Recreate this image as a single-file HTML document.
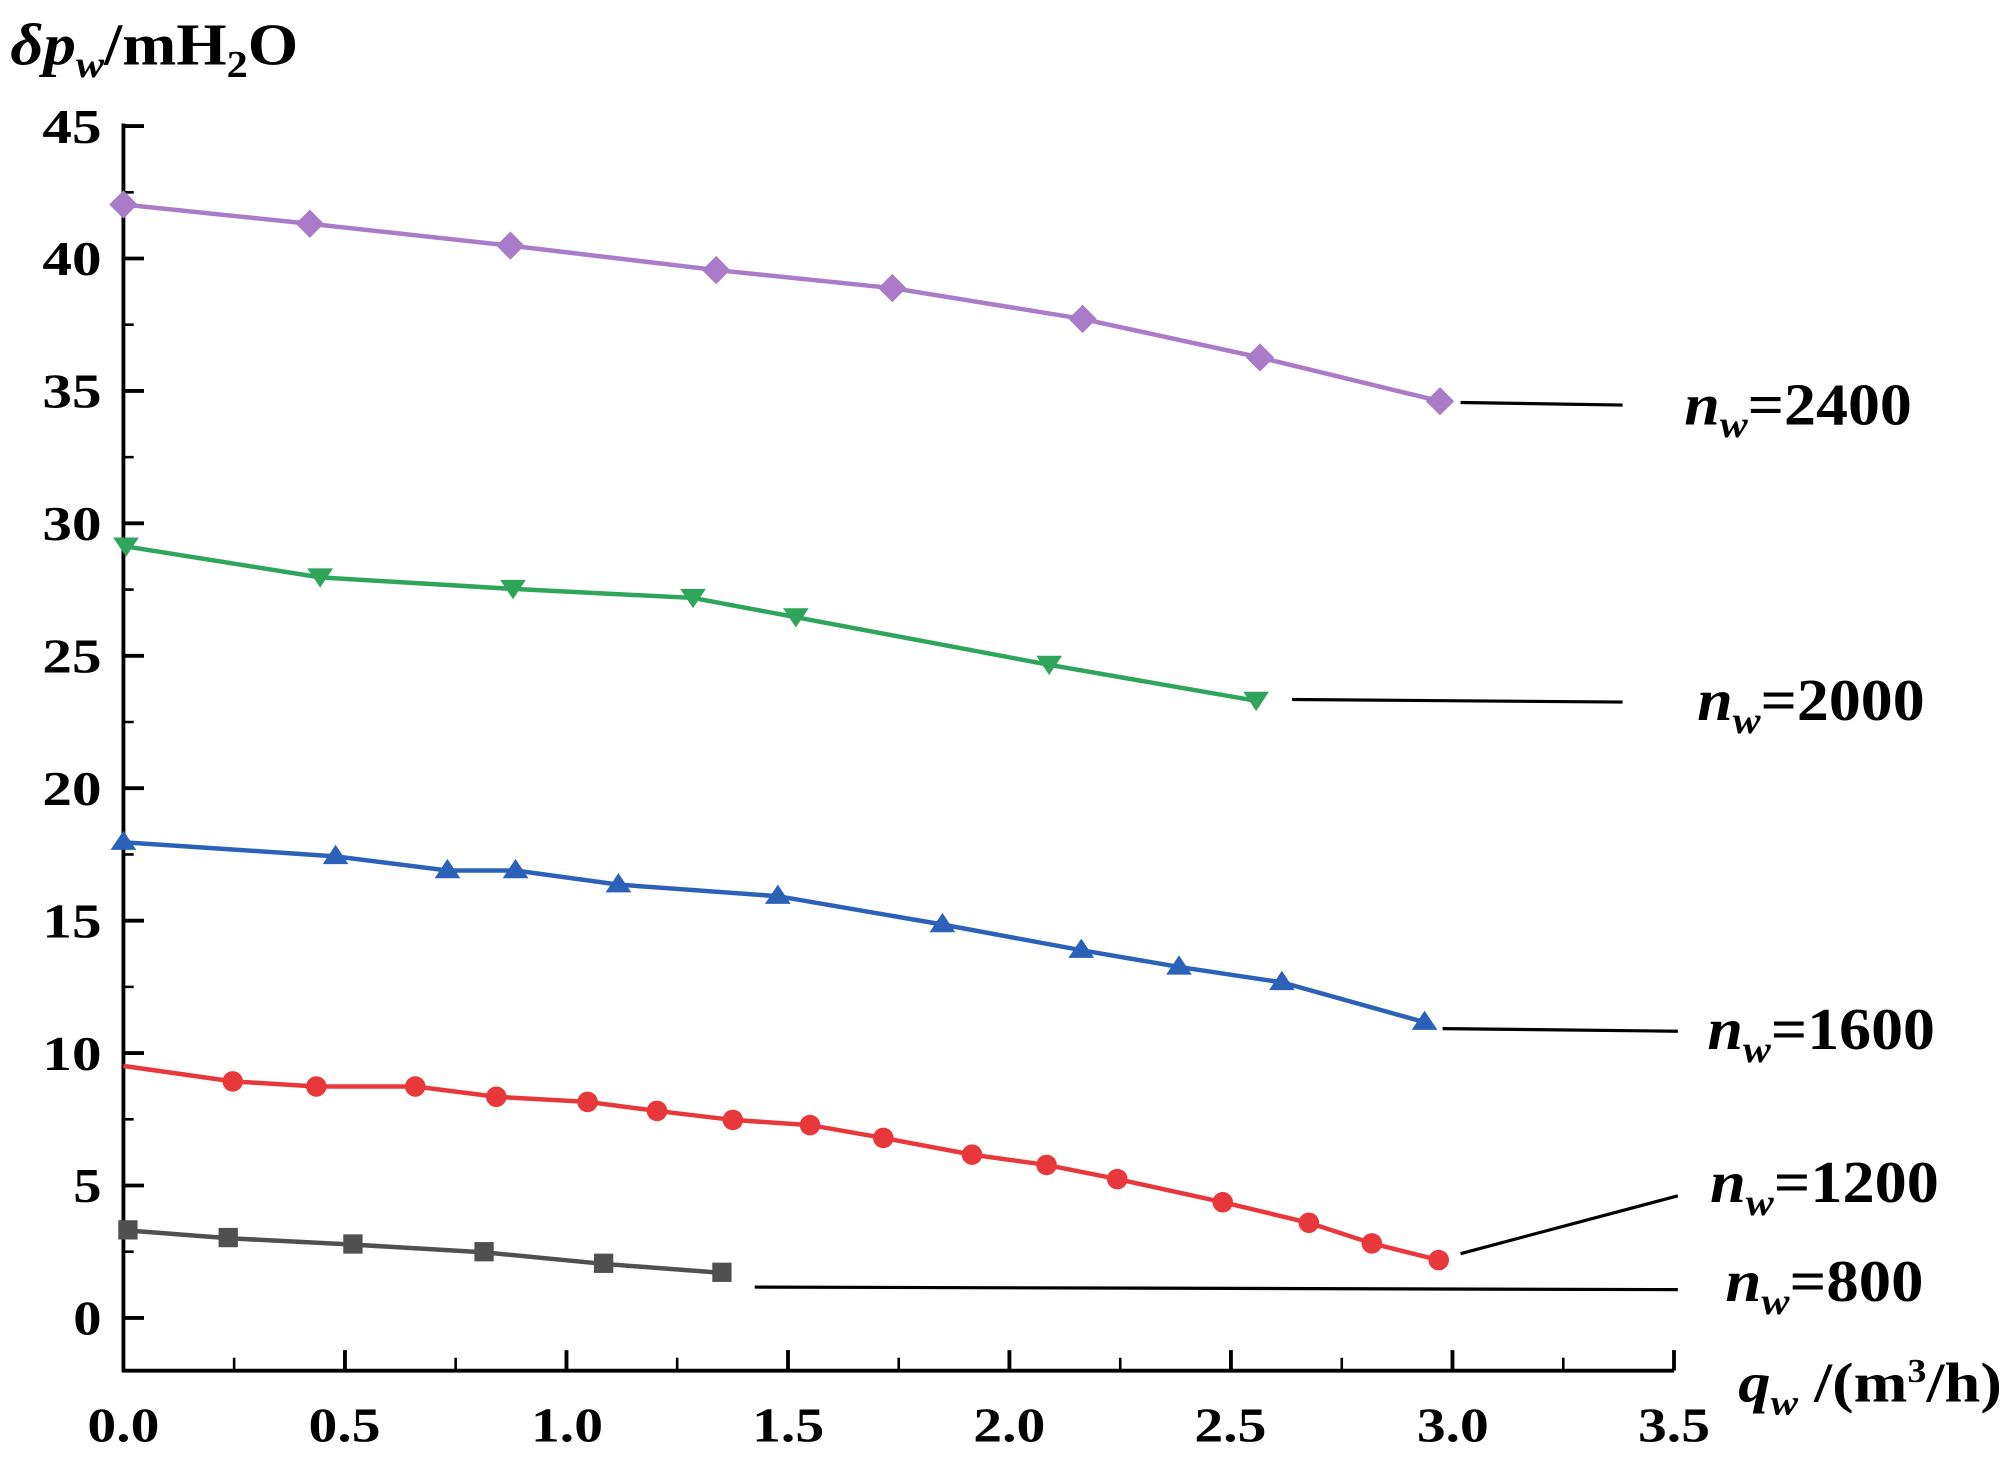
<!DOCTYPE html>
<html><head><meta charset="utf-8"><style>
html,body{margin:0;padding:0;background:#fff;}
svg{display:block;}
text{font-family:"Liberation Serif",serif;font-weight:bold;fill:#000;}
</style></head><body>
<svg width="2016" height="1462" viewBox="0 0 1568 1137" xmlns="http://www.w3.org/2000/svg">
<g stroke="#000" stroke-width="3" fill="none">
<line x1="96" y1="96" x2="96" y2="1067"/>
<line x1="95" y1="1066" x2="1302" y2="1066"/>
<path d="M96 98h16M96 201h16M96 304h16M96 407h16M96 510h16M96 613h16M96 716h16M96 819h16M96 922h16M96 1025h16"/>
<path d="M96 149.5h8M96 252.5h8M96 355.5h8M96 458.5h8M96 561.5h8M96 664.5h8M96 767.5h8M96 870.5h8M96 973.5h8" stroke-width="2"/>
<path d="M268.3 1066v-16M440.6 1066v-16M612.9 1066v-16M785.1 1066v-16M957.4 1066v-16M1129.7 1066v-16M1302 1066v-16"/>
<path d="M182.1 1066v-10M354.4 1066v-10M526.7 1066v-10M699 1066v-10M871.3 1066v-10M1043.6 1066v-10M1215.9 1066v-10" stroke-width="2"/>
</g>
<g font-size="38" text-anchor="end">
<text x="79" y="111" textLength="46" lengthAdjust="spacingAndGlyphs">45</text>
<text x="79" y="214" textLength="46" lengthAdjust="spacingAndGlyphs">40</text>
<text x="79" y="317" textLength="46" lengthAdjust="spacingAndGlyphs">35</text>
<text x="79" y="420" textLength="46" lengthAdjust="spacingAndGlyphs">30</text>
<text x="79" y="523" textLength="46" lengthAdjust="spacingAndGlyphs">25</text>
<text x="79" y="626" textLength="46" lengthAdjust="spacingAndGlyphs">20</text>
<text x="79" y="729" textLength="46" lengthAdjust="spacingAndGlyphs">15</text>
<text x="79" y="832" textLength="46" lengthAdjust="spacingAndGlyphs">10</text>
<text x="79" y="935" textLength="22" lengthAdjust="spacingAndGlyphs">5</text>
<text x="79" y="1038" textLength="22" lengthAdjust="spacingAndGlyphs">0</text>
</g>
<g font-size="38" text-anchor="middle">
<text x="96" y="1121" textLength="56" lengthAdjust="spacingAndGlyphs">0.0</text>
<text x="268" y="1121" textLength="56" lengthAdjust="spacingAndGlyphs">0.5</text>
<text x="441" y="1121" textLength="56" lengthAdjust="spacingAndGlyphs">1.0</text>
<text x="613" y="1121" textLength="56" lengthAdjust="spacingAndGlyphs">1.5</text>
<text x="785" y="1121" textLength="56" lengthAdjust="spacingAndGlyphs">2.0</text>
<text x="957" y="1121" textLength="56" lengthAdjust="spacingAndGlyphs">2.5</text>
<text x="1130" y="1121" textLength="56" lengthAdjust="spacingAndGlyphs">3.0</text>
<text x="1302" y="1121" textLength="56" lengthAdjust="spacingAndGlyphs">3.5</text>
</g>
<text x="8" y="50" font-size="46" textLength="224" lengthAdjust="spacingAndGlyphs"><tspan font-style="italic">δp</tspan><tspan font-style="italic" font-size="30" dy="10">w</tspan><tspan dy="-10">/mH</tspan><tspan font-size="30" dy="10">2</tspan><tspan dy="-10">O</tspan></text>
<text x="1352" y="1090" font-size="44" textLength="205" lengthAdjust="spacingAndGlyphs"><tspan font-style="italic">q</tspan><tspan font-style="italic" font-size="28" dy="10">w</tspan><tspan dy="-10"> /(m</tspan><tspan font-size="26" dy="-15">3</tspan><tspan dy="15">/h)</tspan></text>
<g fill="none" stroke-width="3.5">
<polyline stroke="#a97bc9" points="96,159 241,174 397,191 557,210 694,224 842,248 980,278 1120,312"/>
<polyline stroke="#2ea55b" points="98,425 249,449 399,458 539,465 619,480 816,517 977,545"/>
<polyline stroke="#2b62b8" points="96,655 261,666 348,677 401,677 481,688 605,697 733,719 841,739 917,752 997,764 1108,795"/>
<polyline stroke="#e8383b" points="96,829 181,841 246,845 323,845 386,853 457,857 511,864 570,871 630,875 687,885 756,898 814,906 869,917 951,935 1018,951 1067,967 1119,980"/>
<polyline stroke="#505050" points="100,957 178,963 275,968 377,974 470,983 562,990"/>
</g>
<g fill="#a97bc9">
<path d="M96,148l11,11-11,11-11-11zM241,163l11,11-11,11-11-11zM397,180l11,11-11,11-11-11zM557,199l11,11-11,11-11-11zM694,213l11,11-11,11-11-11zM842,237l11,11-11,11-11-11zM980,267l11,11-11,11-11-11zM1120,301l11,11-11,11-11-11z"/>
</g>
<g fill="#2ea55b">
<path d="M88,418h20l-10,15zM239,442h20l-10,15zM389,451h20l-10,15zM529,458h20l-10,15zM609,473h20l-10,15zM806,510h20l-10,15zM967,538h20l-10,15z"/>
</g>
<g fill="#2b62b8">
<path d="M96,646l10,15h-20zM261,657l10,15h-20zM348,668l10,15h-20zM401,668l10,15h-20zM481,679l10,15h-20zM605,688l10,15h-20zM733,710l10,15h-20zM841,730l10,15h-20zM917,743l10,15h-20zM997,755l10,15h-20zM1108,786l10,15h-20z"/>
</g>
<g fill="#e8383b">
<circle cx="181" cy="841" r="8"/><circle cx="246" cy="845" r="8"/><circle cx="323" cy="845" r="8"/><circle cx="386" cy="853" r="8"/><circle cx="457" cy="857" r="8"/><circle cx="511" cy="864" r="8"/><circle cx="570" cy="871" r="8"/><circle cx="630" cy="875" r="8"/><circle cx="687" cy="885" r="8"/><circle cx="756" cy="898" r="8"/><circle cx="814" cy="906" r="8"/><circle cx="869" cy="917" r="8"/><circle cx="951" cy="935" r="8"/><circle cx="1018" cy="951" r="8"/><circle cx="1067" cy="967" r="8"/><circle cx="1119" cy="980" r="8"/>
</g>
<g fill="#505050">
<rect x="92" y="949" width="15" height="15"/><rect x="170" y="955" width="15" height="15"/><rect x="267" y="960" width="15" height="15"/><rect x="369" y="966" width="15" height="15"/><rect x="462" y="975" width="15" height="15"/><rect x="554" y="982" width="15" height="15"/>
</g>
<g stroke="#000" stroke-width="2.5">
<line x1="1136" y1="313" x2="1262" y2="315"/>
<line x1="1005" y1="544" x2="1262" y2="546"/>
<line x1="1122" y1="800" x2="1305" y2="802"/>
<line x1="1136" y1="975" x2="1305" y2="930"/>
<line x1="587" y1="1001" x2="1305" y2="1003"/>
</g>
<g font-size="46">
<text x="1310" y="330" textLength="177" lengthAdjust="spacingAndGlyphs"><tspan font-style="italic">n</tspan><tspan font-style="italic" font-size="30" dy="10">w</tspan><tspan dy="-10">=2400</tspan></text>
<text x="1320" y="560" textLength="177" lengthAdjust="spacingAndGlyphs"><tspan font-style="italic">n</tspan><tspan font-style="italic" font-size="30" dy="10">w</tspan><tspan dy="-10">=2000</tspan></text>
<text x="1328" y="816" textLength="177" lengthAdjust="spacingAndGlyphs"><tspan font-style="italic">n</tspan><tspan font-style="italic" font-size="30" dy="10">w</tspan><tspan dy="-10">=1600</tspan></text>
<text x="1330" y="935" textLength="178" lengthAdjust="spacingAndGlyphs"><tspan font-style="italic">n</tspan><tspan font-style="italic" font-size="30" dy="10">w</tspan><tspan dy="-10">=1200</tspan></text>
<text x="1342" y="1012" textLength="154" lengthAdjust="spacingAndGlyphs"><tspan font-style="italic">n</tspan><tspan font-style="italic" font-size="30" dy="10">w</tspan><tspan dy="-10">=800</tspan></text>
</g>
</svg>
</body></html>
